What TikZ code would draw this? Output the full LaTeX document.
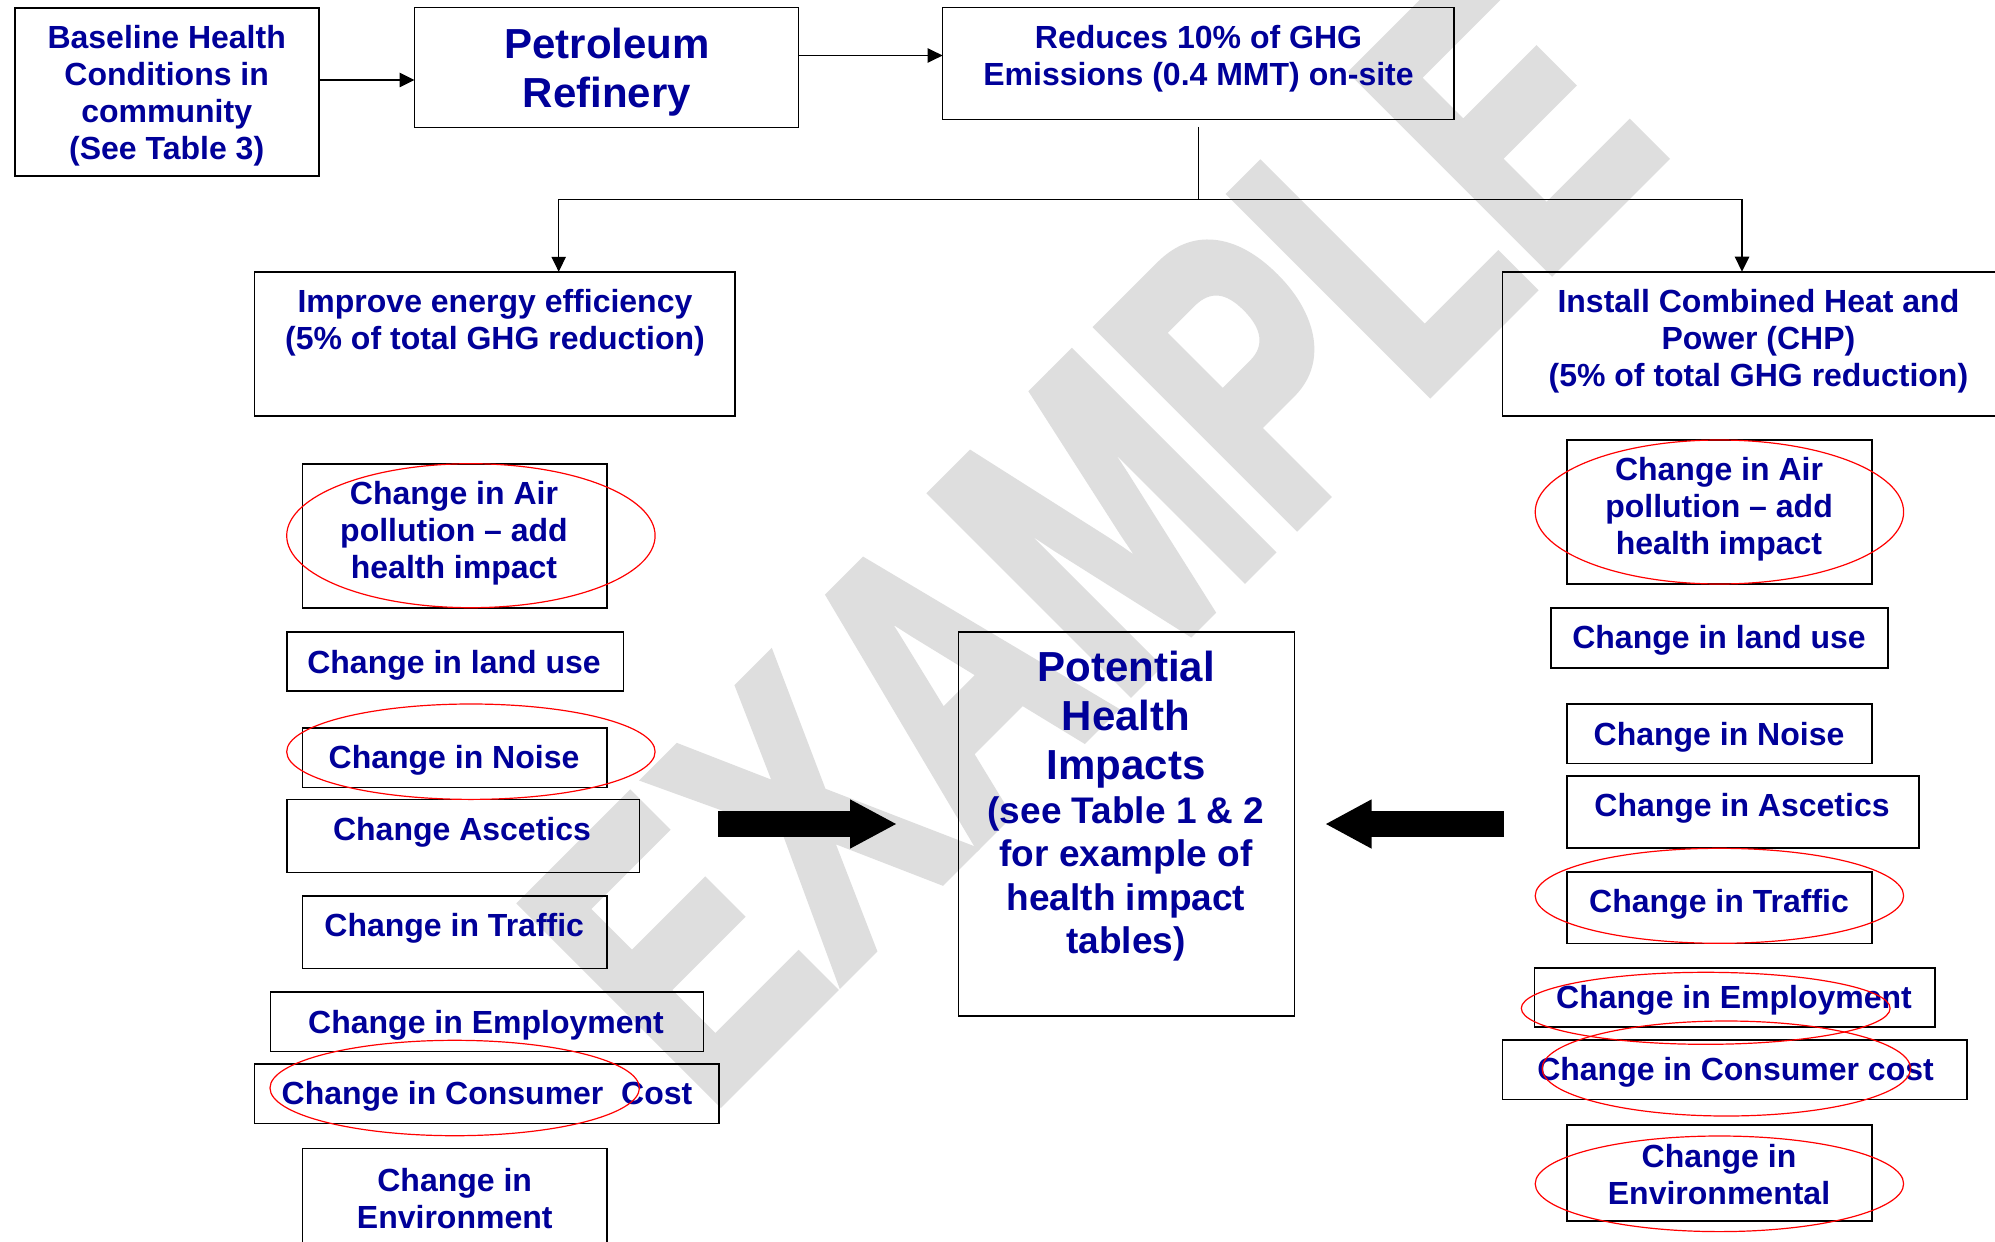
\documentclass[tikz,border=0pt]{standalone}
\usepackage{fontspec}
\setmainfont{Liberation Sans}
\newfontfamily\wmfont{Liberation Sans}[BoldFeatures={FakeBold=3}]
\usetikzlibrary{arrows.meta}
\definecolor{navy}{RGB}{0,0,153}
\definecolor{wmgray}{RGB}{222,222,222}
\begin{document}
\begin{tikzpicture}[x=0.5pt,y=-0.5pt,
  box/.style={draw=black, line width=0.8pt, rectangle, inner sep=0pt, outer sep=0pt},
  txt/.style={text=navy, font=\fontsize{16}{18.5}\selectfont\bfseries, align=center, inner sep=0pt},
  bigtxt/.style={txt, font=\fontsize{21}{24.5}\selectfont\bfseries},
  midtxt/.style={txt, font=\fontsize{18.5}{21.65}\selectfont\bfseries},
  conn/.style={draw=black, line width=0.65pt, -{Triangle[length=7.5pt,width=7.2pt]}},
  plain/.style={draw=black, line width=0.65pt},
  ell/.style={draw=red, line width=0.6pt},
  fat/.style={fill=black}]
\useasboundingbox (0,0) rectangle (1995,1241);
\clip (0,0) rectangle (1995,1241);
\fill[white] (0,0) rectangle (1995,1241);

% watermark
\begin{scope}[shift={(1090.4,533.9)}, rotate=45, xscale=0.7]
\node[transform shape, inner sep=0pt, text=wmgray, font=\wmfont\bfseries\fontsize{201.5}{201.5}\selectfont] (wm) at (0,0) {EXAMPLE};
\end{scope}

% top row
\node[box, minimum width=152.15pt, minimum height=84.15pt] (base) at (166.9,91.9) {};
\node[box, minimum width=192pt, minimum height=60pt] (pet) at (606.5,67.7) {};
\node[box, minimum width=255.7pt, minimum height=55.9pt] (red) at (1198.3,63.6) {};
\node[box, minimum width=240.1pt, minimum height=72.15pt] (imp) at (494.6,343.9) {};
\node[box, minimum width=255.5pt, minimum height=72pt] (chp) at (1758,343.7) {};
\node[box, minimum width=168pt, minimum height=192.15pt] (pot) at (1126.6,823.9) {};

% left column
\node[box, minimum width=152.35pt, minimum height=72pt] (airL) at (454.7,535.7) {};
\node[box, minimum width=168.3pt, minimum height=29.65pt] (landL) at (455,661.4) {};
\node[box, minimum width=152.35pt, minimum height=29.8pt] (noiseL) at (454.7,757.5) {};
\node[box, minimum width=176.3pt, minimum height=36.5pt] (ascL) at (463,835.8) {};
\node[box, minimum width=152.35pt, minimum height=36.3pt] (trafL) at (454.7,932) {};
\node[box, minimum width=216.5pt, minimum height=29.65pt] (empL) at (486.8,1021.7) {};
\node[box, minimum width=232.35pt, minimum height=29.8pt] (conL) at (486.7,1093.5) {};
\node[box, minimum width=152.35pt, minimum height=47.85pt] (envL) at (454.7,1196.2) {};

% right column
\node[box, minimum width=152.45pt, minimum height=72.15pt] (airR) at (1719.6,511.9) {};
\node[box, minimum width=168.45pt, minimum height=30pt] (landR) at (1719.6,637.7) {};
\node[box, minimum width=152.45pt, minimum height=29.8pt] (noiseR) at (1719.6,733.5) {};
\node[box, minimum width=176.05pt, minimum height=36.15pt] (ascR) at (1743.2,811.9) {};
\node[box, minimum width=152.45pt, minimum height=35.8pt] (trafR) at (1719.6,907.5) {};
\node[box, minimum width=200.35pt, minimum height=29.65pt] (empR) at (1734.9,997.4) {};
\node[box, minimum width=232.35pt, minimum height=29.8pt] (conR) at (1734.9,1069.5) {};
\node[box, minimum width=152.45pt, minimum height=48pt] (envR) at (1719.6,1172.7) {};

% connectors
\coordinate (ya) at (0,80);
\coordinate (yb) at (0,55.5);
\draw[conn] (base.east |- ya) -- (pet.west |- ya);
\draw[conn] (pet.east |- yb) -- (red.west |- yb);
\coordinate (split) at (1198.3,199.3);
\coordinate (jl) at (558.7,199.3);
\coordinate (jr) at (1742,199.3);
\draw[plain] ([yshift=-3.75pt]red.south) -- (split);
\draw[conn] (split) -- (jl) -- (jl |- imp.north);
\draw[conn] (split) -- (jr) -- (jr |- chp.north);

% fat arrows
\coordinate (lA) at (718,824);
\coordinate (lT) at (896,824);
\coordinate (rT) at (1326,824);
\fill[fat] (lA) ++(0,-12.85) -- ++(132,0) -- ++(0,-11.85) -- (lT) -- ++(-46,24.7) -- ++(0,-11.85) -- ++(-132,0) -- cycle;
\fill[fat] (rT) -- ++(45.6,-24.7) -- ++(0,11.85) -- ++(132.2,0) -- ++(0,25.7) -- ++(-132.2,0) -- ++(0,11.85) -- cycle;

% texts
\node[txt] (tBase) at (166.7,96) {Baseline Health\\Conditions in\\community\\(See Table 3)};
\node[bigtxt] (tPet) at (607,72) {Petroleum\\Refinery};
\node[txt] (tRed) at (1198.5,59) {Reduces 10\% of GHG\\Emissions (0.4 MMT) on-site};
\node[txt] (tImp) at (495,323) {Improve energy efficiency\\(5\% of total GHG reduction)};
\node[txt] (tChp) at (1758.4,341.5) {Install Combined Heat and\\Power (CHP)\\(5\% of total GHG reduction)};
\node[bigtxt] (tPot1) at (1126,720) {Potential\\Health\\Impacts};
\node[midtxt] (tPot2) at (1126,879) {(see Table 1 \& 2\\for example of\\health impact\\tables)};

\node[txt] (tAirL) at (454,533) {Change in Air\\pollution – add\\health impact};
\node[txt] (tLandL) at (454,665) {Change in land use};
\node[txt] (tNoiseL) at (454,760) {Change in Noise};
\node[txt] (tAscL) at (462,832.5) {Change Ascetics};
\node[txt] (tTrafL) at (454.2,928) {Change in Traffic};
\node[txt] (tEmpL) at (486,1025) {Change in Employment};
\node[txt] (tConL) at (487,1096) {Change in Consumer~~Cost};
\node[txt] (tEnvL) at (454.7,1199) {Change in\\Environment};

\node[txt] (tAirR) at (1719,509) {Change in Air\\pollution – add\\health impact};
\node[txt] (tLandR) at (1719,640.5) {Change in land use};
\node[txt] (tNoiseR) at (1719,737) {Change in Noise};
\node[txt] (tAscR) at (1742,808.5) {Change in Ascetics};
\node[txt] (tTrafR) at (1719,904) {Change in Traffic};
\node[txt] (tEmpR) at (1734,1000.5) {Change in Employment};
\node[txt] (tConR) at (1735.5,1072) {Change in Consumer cost};
\node[txt] (tEnvR) at (1719,1175) {Change in\\Environmental};

% red ellipses
\draw[ell] (470.9,535.7) ellipse [x radius=92.1pt, y radius=36pt];
\draw[ell] (470.9,751.7) ellipse [x radius=92.1pt, y radius=23.85pt];
\draw[ell] (454.7,1088) ellipse [x radius=92.35pt, y radius=23.85pt];
\draw[ell] (1719.4,512) ellipse [x radius=92.1pt, y radius=36pt];
\draw[ell] (1719.4,895.8) ellipse [x radius=92.1pt, y radius=23.75pt];
\draw[ell] (1705.7,1008.3) ellipse [x radius=92.2pt, y radius=18pt];
\draw[ell] (1726.3,1068.5) ellipse [x radius=92.1pt, y radius=23.75pt];
\draw[ell] (1719.4,1183.8) ellipse [x radius=92.1pt, y radius=23.9pt];
\end{tikzpicture}
\end{document}
